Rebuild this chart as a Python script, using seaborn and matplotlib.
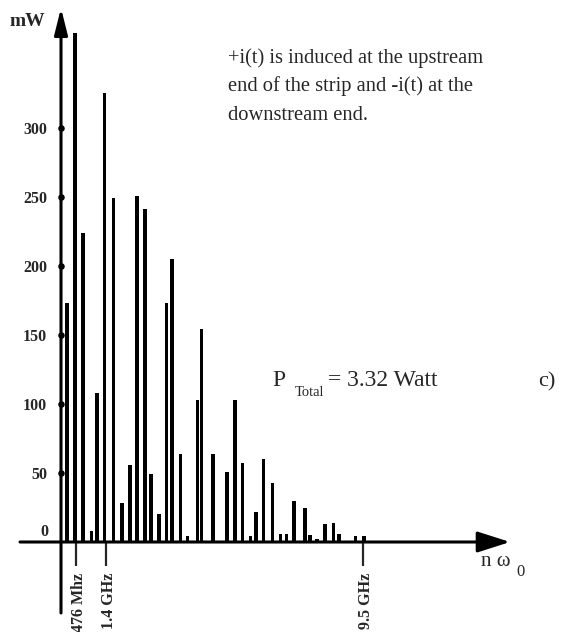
import matplotlib
matplotlib.use('Agg')
import matplotlib.pyplot as plt
import matplotlib.transforms as mtransforms
import seaborn as sns
import numpy as np

# Spectral lines: frequency (GHz) and power (mW)
freq_ghz = [0.19, 0.44, 0.69, 0.97, 1.13, 1.38, 1.64, 1.92, 2.17, 2.39,
            2.64, 2.83, 3.08, 3.33, 3.49, 3.77, 3.99, 4.28, 4.43, 4.78,
            5.22, 5.47, 5.72, 5.97, 6.13, 6.38, 6.64, 6.89, 7.08, 7.33,
            7.67, 7.83, 8.05, 8.30, 8.58, 8.74, 9.25, 9.53]
power_mw = [173, 369, 224, 8, 108, 325, 249, 28, 56, 251,
            241, 49, 20, 173, 205, 64, 4, 103, 154, 64,
            51, 103, 57, 4, 22, 60, 43, 6, 6, 30,
            25, 5, 2, 13, 14, 6, 4, 4]

y_ticks = [50, 100, 150, 200, 250, 300]
x_marks = [0.476, 1.4, 9.5]
x_mark_labels = ['476 Mhz', '1.4 GHz', '9.5 GHz']

note_lines = ['+i(t) is induced at the upstream',
              'end of the strip and -i(t) at the',
              'downstream end.']

sns.set_style('white')
plt.rcParams['font.family'] = ['Liberation Serif', 'DejaVu Serif']

W, H = 569, 632
fig = plt.figure(figsize=(W / 100, H / 100), dpi=100)

# axes box: x from px 20 to 510, y from px 8 to 613
px_per_ghz = 31.8
px_per_mw = 1.38
x_lo, x_hi = -41 / px_per_ghz, 449 / px_per_ghz
y_lo, y_hi = -71 / px_per_mw, 534 / px_per_mw
ax = fig.add_axes([20 / W, (H - 613) / H, 490 / W, 605 / H])

min_gap = np.min(np.diff(sorted(freq_ghz)))
sns.barplot(x=freq_ghz, y=power_mw, native_scale=True,
            width=(3.2 / px_per_ghz) / min_gap, color='black',
            edgecolor='black', linewidth=0, saturation=1, ax=ax)

ax.set_xlim(x_lo, x_hi)
ax.set_ylim(y_lo, y_hi)
ax.set(xlabel='', ylabel='')

for side in ['left', 'bottom']:
    ax.spines[side].set_position(('data', 0))
for side in ax.spines:
    ax.spines[side].set_visible(False)

# axis lines with arrow heads
ax.annotate('', xy=(x_hi, 0), xytext=(x_lo, 0),
            arrowprops=dict(arrowstyle='-|>,head_length=1.0,head_width=0.32',
                            mutation_scale=20, lw=2.2, color='black',
                            shrinkA=0, shrinkB=0), annotation_clip=False)
ax.annotate('', xy=(0, y_hi), xytext=(0, y_lo),
            arrowprops=dict(arrowstyle='-|>,head_length=0.8,head_width=0.2',
                            mutation_scale=20, lw=2.2, color='black',
                            shrinkA=0, shrinkB=0), annotation_clip=False)

# x ticks: long marks below the baseline with rotated labels
ax.set_xticks(x_marks)
ax.set_xticklabels(x_mark_labels, rotation=90, fontsize=11.5,
                   fontweight='bold')
ax.tick_params(axis='x', direction='out', length=17, width=1.6,
               pad=5, bottom=True)
shift = mtransforms.ScaledTranslation(3 / 100, 0, fig.dpi_scale_trans)
for lab in ax.get_xticklabels():
    lab.set_transform(lab.get_transform() + shift)

# y ticks: dots on the axis
ax.set_yticks(y_ticks)
ax.set_yticklabels([str(v) for v in y_ticks], fontsize=11.5,
                   fontweight='bold')
ax.tick_params(axis='y', length=0, pad=10, left=True)
sns.scatterplot(x=[0] * len(y_ticks), y=y_ticks, color='black', s=22,
                linewidth=0, ax=ax, zorder=5, clip_on=False)

ax.grid(False)


def ftext(px, py, s, **kw):
    fig.text(px / W, 1 - py / H, s, **kw)


ftext(48, 532, '0', ha='right', va='center', fontsize=11.5, fontweight='bold')
ftext(9, 22, 'mW', ha='left', va='center', fontsize=14, fontweight='bold')

for i, line in enumerate(note_lines):
    ftext(228, 58 + 28.5 * i, line, ha='left', va='center', fontsize=14.8)

ftext(272, 381, 'P', ha='left', va='center', fontsize=17)
ftext(295, 392, 'Total', ha='left', va='center', fontsize=10.5)
ftext(328, 381, '= 3.32 Watt', ha='left', va='center', fontsize=17)
ftext(538, 382, 'c)', ha='left', va='center', fontsize=16)

ftext(481, 562, 'n \u03c9', ha='left', va='center', fontsize=15)
ftext(516, 572, '0', ha='left', va='center', fontsize=12)

fig.savefig('out.png', dpi=100)
